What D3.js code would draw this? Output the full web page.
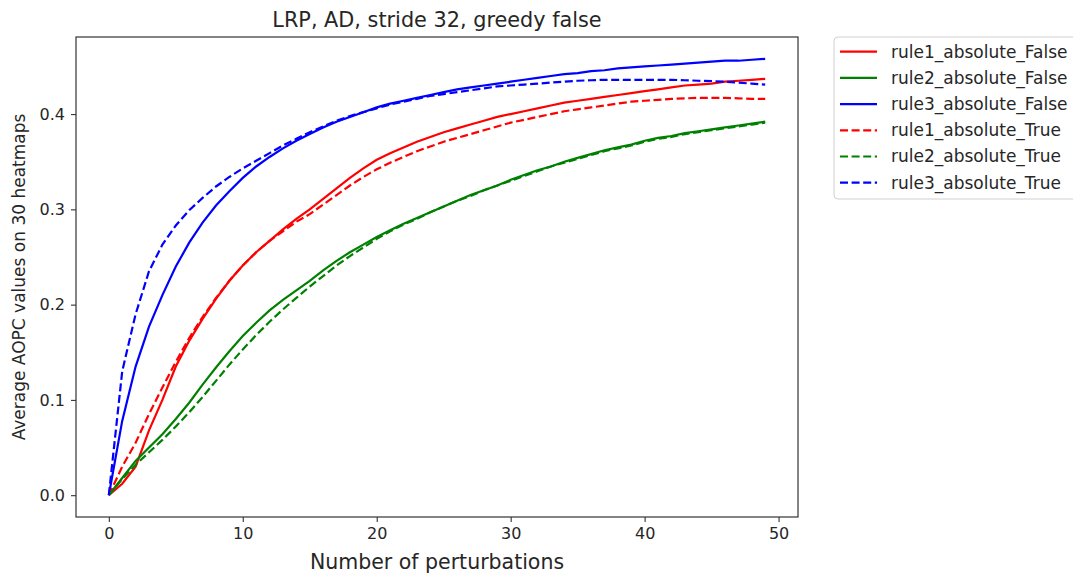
<!DOCTYPE html>
<html>
<head>
<meta charset="utf-8">
<script src="https://cdn.jsdelivr.net/npm/d3@7"></script>
<style>
  body { margin: 0; background: #fff; }
  text { font-family: "DejaVu Sans", sans-serif; fill: #262626; }
</style>
</head>
<body>
<div id="chart"></div>
<script>
// x values: number of perturbations 0..49
const steps = d3.range(50);

const rule1False = [0, 0.012, 0.03, 0.068, 0.10, 0.135, 0.162, 0.185, 0.206, 0.225,
  0.241, 0.255, 0.267, 0.279, 0.290, 0.300, 0.311, 0.322, 0.333, 0.343,
  0.352, 0.359, 0.365, 0.371, 0.376, 0.381, 0.385, 0.389, 0.393, 0.397,
  0.400, 0.403, 0.406, 0.409, 0.412, 0.414, 0.416, 0.418, 0.420, 0.422,
  0.424, 0.426, 0.428, 0.430, 0.431, 0.432, 0.434, 0.435, 0.436, 0.437];

const rule2False = [0, 0.018, 0.036, 0.050, 0.064, 0.080, 0.097, 0.116, 0.134, 0.151,
  0.167, 0.181, 0.194, 0.205, 0.215, 0.225, 0.236, 0.246, 0.255, 0.263,
  0.271, 0.278, 0.285, 0.291, 0.297, 0.303, 0.309, 0.315, 0.320, 0.325,
  0.331, 0.336, 0.341, 0.345, 0.350, 0.354, 0.358, 0.362, 0.365, 0.368,
  0.372, 0.375, 0.377, 0.380, 0.382, 0.384, 0.386, 0.388, 0.390, 0.392];

const rule3False = [0, 0.078, 0.135, 0.177, 0.210, 0.240, 0.265, 0.286, 0.304, 0.319,
  0.333, 0.345, 0.355, 0.364, 0.372, 0.379, 0.386, 0.392, 0.397, 0.402,
  0.407, 0.411, 0.414, 0.417, 0.420, 0.423, 0.426, 0.428, 0.430, 0.432,
  0.434, 0.436, 0.438, 0.440, 0.442, 0.443, 0.445, 0.446, 0.448, 0.449,
  0.450, 0.451, 0.452, 0.453, 0.454, 0.455, 0.456, 0.456, 0.457, 0.458];

const rule1True = [0, 0.030, 0.055, 0.085, 0.113, 0.140, 0.165, 0.187, 0.207, 0.225,
  0.241, 0.255, 0.267, 0.277, 0.287, 0.295, 0.305, 0.315, 0.325, 0.334,
  0.342, 0.349, 0.355, 0.361, 0.366, 0.371, 0.375, 0.379, 0.383, 0.387,
  0.391, 0.394, 0.397, 0.400, 0.403, 0.405, 0.407, 0.409, 0.411, 0.413,
  0.414, 0.415, 0.416, 0.4165, 0.417, 0.417, 0.417, 0.4165, 0.416, 0.416];

const rule2True = [0, 0.017, 0.032, 0.045, 0.058, 0.072, 0.087, 0.103, 0.120, 0.137,
  0.153, 0.168, 0.182, 0.195, 0.207, 0.219, 0.230, 0.241, 0.251, 0.260,
  0.269, 0.277, 0.284, 0.290, 0.297, 0.303, 0.309, 0.314, 0.320, 0.325,
  0.330, 0.335, 0.340, 0.345, 0.349, 0.353, 0.357, 0.361, 0.364, 0.367,
  0.371, 0.374, 0.376, 0.379, 0.381, 0.383, 0.385, 0.387, 0.389, 0.391];

const rule3True = [0, 0.130, 0.190, 0.235, 0.263, 0.283, 0.299, 0.312, 0.324, 0.334,
  0.343, 0.351, 0.359, 0.367, 0.374, 0.381, 0.387, 0.393, 0.398, 0.402,
  0.406, 0.410, 0.413, 0.416, 0.419, 0.421, 0.423, 0.425, 0.427, 0.429,
  0.430, 0.431, 0.432, 0.433, 0.434, 0.435, 0.4355, 0.436, 0.436, 0.436,
  0.436, 0.436, 0.436, 0.4355, 0.435, 0.4345, 0.434, 0.433, 0.432, 0.431];

const seriesNames = ["rule1_absolute_False", "rule2_absolute_False", "rule3_absolute_False",
  "rule1_absolute_True", "rule2_absolute_True", "rule3_absolute_True"];
const seriesValues = [rule1False, rule2False, rule3False, rule1True, rule2True, rule3True];
const seriesColors = ["#ff0000", "#008000", "#0000ff", "#ff0000", "#008000", "#0000ff"];
const seriesDashed = [false, false, false, true, true, true];

const xTicks = [0, 10, 20, 30, 40, 50];
const yTicks = [0.0, 0.1, 0.2, 0.3, 0.4];

const series = seriesNames.map((name, i) => ({
  name: name,
  color: seriesColors[i],
  dashed: seriesDashed[i],
  values: seriesValues[i].map((v, j) => ({ x: steps[j], y: v }))
}));

// Layout
const W = 1073, H = 576;
const margin = { top: 37, right: 275, bottom: 59, left: 76 };
const width = W - margin.left - margin.right;
const height = H - margin.top - margin.bottom;

const svgRoot = d3.select("#chart")
  .append("svg")
  .attr("width", W)
  .attr("height", H);

const svg = svgRoot.append("g")
  .attr("transform", `translate(${margin.left},${margin.top})`);

// Scales with matplotlib-like 5% margins
const xMin = 0, xMax = 49;
const yMax = d3.max(seriesValues, s => d3.max(s));
const xPad = (xMax - xMin) * 0.05;
const yPad = yMax * 0.05;

const x = d3.scaleLinear()
  .domain([xMin - xPad, xMax + xPad])
  .range([0, width]);

const y = d3.scaleLinear()
  .domain([-yPad, yMax + yPad])
  .range([height, 0]);

// Lines
const line = d3.line()
  .x(d => x(d.x))
  .y(d => y(d.y));

svg.selectAll(".series")
  .data(series)
  .enter()
  .append("path")
  .attr("class", "series")
  .attr("d", d => line(d.values))
  .attr("fill", "none")
  .attr("stroke", d => d.color)
  .attr("stroke-width", 2.2)
  .attr("stroke-dasharray", d => d.dashed ? "8,3.6" : null);

// Frame
svg.append("rect")
  .attr("width", width)
  .attr("height", height)
  .attr("fill", "none")
  .attr("stroke", "#333")
  .attr("stroke-width", 1.2);

// Axes
const xAxis = svg.append("g")
  .attr("transform", `translate(0,${height})`)
  .call(d3.axisBottom(x).tickValues(xTicks).tickSize(5).tickPadding(6).tickFormat(d3.format("d")));

const yAxis = svg.append("g")
  .call(d3.axisLeft(y).tickValues(yTicks).tickSize(5).tickPadding(6).tickFormat(d3.format(".1f")));

[xAxis, yAxis].forEach(g => {
  g.select(".domain").remove();
  g.selectAll(".tick line").attr("stroke", "#333").attr("stroke-width", 1.1);
  g.selectAll(".tick text")
    .style("font-family", "DejaVu Sans, sans-serif")
    .style("font-size", "16px")
    .attr("fill", "#262626");
});

// Title and axis labels
svgRoot.append("text")
  .attr("x", margin.left + width / 2)
  .attr("y", 27)
  .attr("text-anchor", "middle")
  .style("font-size", "20.8px")
  .text("LRP, AD, stride 32, greedy false");

svgRoot.append("text")
  .attr("x", margin.left + width / 2)
  .attr("y", 569)
  .attr("text-anchor", "middle")
  .style("font-size", "20.5px")
  .text("Number of perturbations");

svgRoot.append("text")
  .attr("transform", `translate(25,${margin.top + height / 2}) rotate(-90)`)
  .attr("text-anchor", "middle")
  .style("font-size", "17px")
  .text("Average AOPC values on 30 heatmaps");

// Legend
const legend = svgRoot.append("g")
  .attr("transform", "translate(834,37)");

legend.append("rect")
  .attr("width", 260)
  .attr("height", 162)
  .attr("rx", 4)
  .attr("fill", "#fff")
  .attr("stroke", "#d0d0d0")
  .attr("stroke-width", 1);

const rows = legend.selectAll(".legend-row")
  .data(series)
  .enter()
  .append("g")
  .attr("class", "legend-row")
  .attr("transform", (d, i) => `translate(0,${14.7 + i * 26.2})`);

rows.append("line")
  .attr("x1", 6)
  .attr("x2", 43)
  .attr("stroke", d => d.color)
  .attr("stroke-width", 2.2)
  .attr("stroke-dasharray", d => d.dashed ? "8,3.6" : null);

rows.append("text")
  .attr("x", 57)
  .attr("dy", "0.35em")
  .style("font-size", "17px")
  .text(d => d.name);
</script>
</body>
</html>
